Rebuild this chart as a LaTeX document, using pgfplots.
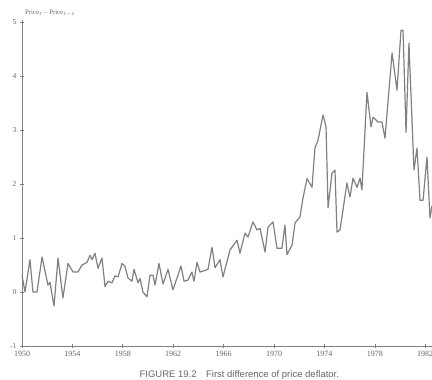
\documentclass[border=0pt]{standalone}
\usepackage{pgfplots}
\pgfplotsset{compat=1.18}
\usepackage{fontspec}
\setmainfont{Liberation Serif}
\newfontfamily\capfont{Liberation Sans}
\definecolor{ln}{gray}{0.5}
\definecolor{tx}{gray}{0.4}
\begin{document}
\begin{tikzpicture}
\begin{axis}[
  at={(0,0)}, anchor=south west,
  scale only axis, width=410pt, height=326pt,
  xmin=1950, xmax=1982.54, ymin=-1, ymax=5.04,
  axis lines=left, axis line style={draw=ln, line width=0.9pt, -},
  tick align=center, tick style={draw=ln, line width=0.6pt}, major tick length=4pt,
  xtick={1950,1954,...,1982}, ytick={-1,0,...,5},
  x tick label style={/pgf/number format/1000 sep={}, font=\fontsize{8}{9}\selectfont, text=tx},
  y tick label style={font=\fontsize{7.5}{9}\selectfont, text=tx},
  /pgf/number format/assume math mode=true,
  clip=false,
]
\addplot[ln, line width=1.2pt, line join=round] table {
x y
1950.00 0.31
1950.24 0.00
1950.63 0.60
1950.87 0.00
1951.19 0.00
1951.59 0.65
1952.06 0.13
1952.22 0.18
1952.54 -0.26
1952.86 0.63
1953.25 -0.11
1953.65 0.53
1954.05 0.37
1954.44 0.37
1954.76 0.50
1955.16 0.55
1955.40 0.68
1955.56 0.60
1955.79 0.72
1956.03 0.44
1956.35 0.63
1956.59 0.10
1956.83 0.20
1957.14 0.17
1957.38 0.30
1957.62 0.28
1957.94 0.53
1958.17 0.48
1958.41 0.26
1958.73 0.20
1958.89 0.42
1959.21 0.17
1959.37 0.25
1959.60 0.00
1959.92 -0.09
1960.16 0.31
1960.40 0.31
1960.56 0.13
1960.87 0.53
1961.19 0.15
1961.59 0.42
1961.98 0.04
1962.30 0.26
1962.62 0.48
1962.86 0.20
1963.17 0.22
1963.49 0.37
1963.65 0.20
1963.89 0.55
1964.13 0.37
1964.52 0.40
1964.76 0.42
1965.08 0.83
1965.32 0.45
1965.71 0.60
1965.95 0.28
1966.51 0.78
1967.06 0.96
1967.30 0.72
1967.70 1.09
1967.94 1.02
1968.33 1.30
1968.65 1.15
1968.89 1.18
1969.29 0.74
1969.52 1.20
1969.92 1.30
1970.24 0.81
1970.63 0.81
1970.87 1.24
1971.03 0.69
1971.43 0.87
1971.67 1.28
1972.06 1.39
1972.30 1.74
1972.62 2.10
1973.02 1.94
1973.25 2.67
1973.49 2.81
1973.89 3.28
1974.13 3.06
1974.29 1.56
1974.60 2.20
1974.84 2.26
1975.00 1.11
1975.24 1.15
1975.79 2.02
1976.03 1.76
1976.27 2.11
1976.59 1.94
1976.83 2.11
1976.98 1.89
1977.38 3.70
1977.70 3.06
1977.86 3.24
1978.25 3.15
1978.57 3.15
1978.81 2.85
1979.37 4.43
1979.76 3.74
1980.08 4.85
1980.24 4.85
1980.48 2.96
1980.71 4.61
1981.11 2.26
1981.35 2.67
1981.59 1.70
1981.83 1.70
1982.14 2.50
1982.38 1.37
1982.54 1.60
};
\node[anchor=south west, text=tx, font=\fontsize{6.8}{8}\selectfont, inner sep=0pt] at ([xshift=3pt,yshift=3pt]rel axis cs:0,1) {Price$_t$ -- Price$_{t-1}$};
\node[text=tx, font=\capfont\fontsize{9.5}{11}\selectfont] at ([yshift=-29pt]rel axis cs:0.53,0) {FIGURE 19.2\quad First difference of price deflator.};
\end{axis}
\pgfresetboundingbox
\path (-22pt,-34pt) rectangle (410pt,346pt);
\end{tikzpicture}
\end{document}
